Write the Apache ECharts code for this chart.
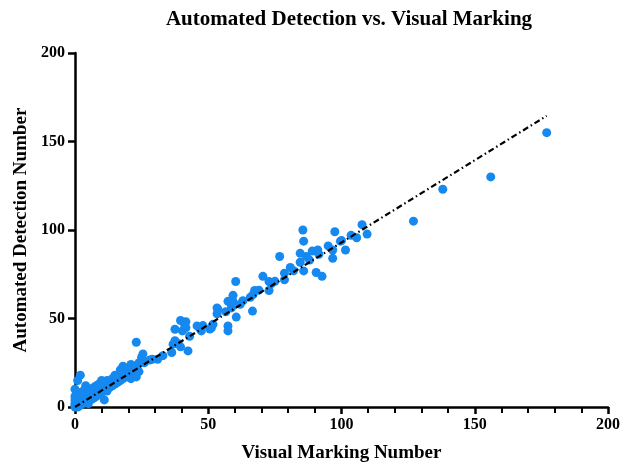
<!DOCTYPE html>
<html>
<head>
<meta charset="utf-8">
<script src="https://cdn.jsdelivr.net/npm/echarts@6/dist/echarts.min.js"></script>
<style>
  html, body { margin: 0; padding: 0; background: #fff; }
  #chart { width: 626px; height: 468px; }
</style>
</head>
<body>
<div id="chart"></div>
<script>
// Visual marking count (x) vs. automated detection count (y), one entry per sample
const visualMarking = [
  0, 0, 0, 1, 1, 1, 2, 2, 0, 0, 1, 2, 3, 3, 3, 4, 4, 5, 5, 5,
  6, 6, 7, 7, 8, 8, 9, 9, 10, 10, 11, 11, 12, 12, 13, 13, 14, 15, 15, 16,
  16, 17, 17, 18, 18, 19, 20, 20, 21, 22, 22, 23, 23, 23, 25, 25.5, 24, 26, 28, 31,
  1, 2, 0, 4, 10, 9, 6, 2, 3, 5, 4, 7, 8, 14, 12, 11, 19, 21, 17, 15,
  18, 20, 22, 24, 19, 21,
  36.3, 36.8, 37.5, 38.7, 39.6, 42.4, 37.5, 40.3, 41.6, 39.6, 41.6, 45.8, 46.6, 47.4, 51.2, 53.3,
  53.3, 57.4, 58.7, 56.6, 60.5, 57.4, 57.4, 58.7, 60.3, 59.3, 59.3, 66.6, 65.8, 66.8, 67.4, 72.8,
  70.5, 72.8, 73.7, 76.8, 78.6, 78.6, 80.8, 84.5, 85.8, 84.5, 86.8, 85.8, 85.5, 89, 91.1, 91.5,
  90.5, 92.7, 96.7, 96.7, 97.5, 99.6, 101.5, 103.6, 105.7, 107.7, 109.6, 127, 138, 156, 177,
  50.6, 51.8, 53.7, 41.2, 33, 29, 43, 48, 62, 63, 69, 75, 82, 88, 95, 100
];
const automatedDetection = [
  0, 1, 2, 0, 1, 3, 1, 2, 4, 6, 5, 4, 2, 3, 5, 3, 4, 2, 5, 7,
  4, 6, 5, 8, 6, 9, 7, 10, 8, 11, 4, 10, 12, 9, 11, 14, 12, 13, 15, 14,
  17, 15, 19, 16, 18, 20, 17, 22, 19, 21, 23, 22, 17, 36.6, 28, 30, 25, 25, 26.5, 27,
  15, 18, 10, 12, 15, 13, 10, 8, 9, 10, 7, 11, 12, 16, 15, 13, 22, 24, 21, 18,
  23, 21, 19, 20, 17, 16,
  30.8, 35.5, 37.4, 35.9, 34, 31.7, 43.9, 43, 44.8, 48.9, 48.2, 45.8, 44.8, 43, 44.8, 56,
  52.7, 59.7, 57.9, 53.8, 50.8, 45.8, 43, 56, 70.9, 63.1, 59.7, 54.2, 62, 63.5, 65.8, 65.8,
  73.8, 70.9, 69.7, 85, 75.6, 71.9, 78.8, 81.8, 76.9, 86.8, 85, 93.7, 100, 88.1, 88.7, 86.3,
  76, 73.8, 88.7, 84, 99, 93.7, 88.7, 97, 95.6, 103, 97.7, 105, 123, 130, 155,
  44, 46.7, 55, 46, 29, 27, 40, 46, 58, 60, 66, 71, 77, 83, 91, 94
];

// Fitted trend line endpoints
const fitX = [0, 177];
const fitY = [0, 164.5];

// Axis tick values
const xTicks = [0, 50, 100, 150, 200];
const yTicks = [0, 50, 100, 150, 200];

const points = visualMarking.map((v, i) => [v, automatedDetection[i]]);
const fitLine = fitX.map((v, i) => [v, fitY[i]]);

const serif = '"Liberation Serif", "DejaVu Serif", serif';
const labelStyle = { fontFamily: serif, fontWeight: 'bold', fontSize: 16, color: '#000' };
const nameStyle = { fontFamily: serif, fontWeight: 'bold', fontSize: 19, color: '#000' };

const chart = echarts.init(document.getElementById('chart'), null, { renderer: 'canvas' });
chart.setOption({
  animation: false,
  backgroundColor: '#fff',
  title: {
    text: 'Automated Detection vs. Visual Marking',
    left: 344,
    textAlign: 'center',
    top: 4,
    textStyle: { fontFamily: serif, fontWeight: 'bold', fontSize: 21, color: '#000' }
  },
  grid: { left: 75, right: 18, top: 53, bottom: 58, containLabel: false },
  xAxis: {
    type: 'value',
    min: xTicks[0],
    max: xTicks[xTicks.length - 1],
    interval: 50,
    name: 'Visual Marking Number',
    nameLocation: 'middle',
    nameGap: 37,
    nameTextStyle: nameStyle,
    axisLine: { onZero: false, lineStyle: { color: '#000', width: 2.5 } },
    axisTick: { show: true, length: 7, lineStyle: { color: '#000', width: 2.5 } },
    minorTick: { show: true, splitNumber: 5, length: 6, lineStyle: { color: '#000', width: 2 } },
    axisLabel: Object.assign({ margin: 10 }, labelStyle),
    splitLine: { show: false }
  },
  yAxis: {
    type: 'value',
    min: yTicks[0],
    max: yTicks[yTicks.length - 1],
    interval: 50,
    name: 'Automated Detection Number',
    nameLocation: 'middle',
    nameGap: 44,
    nameTextStyle: nameStyle,
    axisLine: { onZero: false, lineStyle: { color: '#000', width: 2.5 } },
    axisTick: { show: true, length: 7, lineStyle: { color: '#000', width: 2.5 } },
    axisLabel: Object.assign({ margin: 10 }, labelStyle),
    splitLine: { show: false }
  },
  series: [
    {
      type: 'scatter',
      data: points,
      symbol: 'circle',
      symbolSize: 9,
      itemStyle: { color: '#1589F0', opacity: 1 },
      z: 2
    },
    {
      type: 'line',
      data: fitLine,
      symbol: 'none',
      lineStyle: { color: '#000', width: 2.2, type: [6, 3, 1.5, 3] },
      z: 3
    }
  ]
});
</script>
</body>
</html>
